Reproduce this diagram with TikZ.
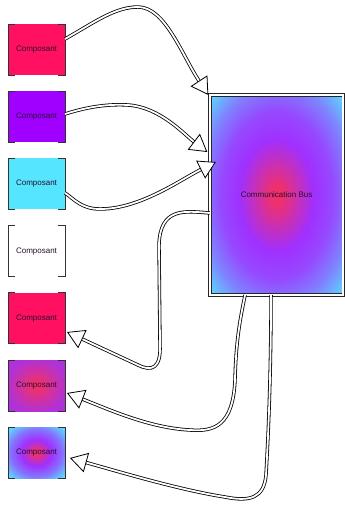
\documentclass[tikz,border=0pt]{standalone}
\usepackage{fontspec}
\setmainfont{Liberation Sans}
\usetikzlibrary{arrows.meta,calc}

\definecolor{crimsonpink}{HTML}{FF1060}
\definecolor{violetfill}{HTML}{A000FF}
\definecolor{cyanfill}{HTML}{55E5FF}
\definecolor{glowred}{HTML}{F0306A}
\definecolor{glowpurple}{HTML}{A030FF}
\definecolor{glowblue}{HTML}{5CD8FF}
\definecolor{magentaedge}{HTML}{B032D6}
\definecolor{inktext}{HTML}{2A1030}

% radial glows used by the bus and the last two components
\pgfdeclareradialshading{busglow}{\pgfpoint{0bp}{0bp}}{%
  color(0bp)=(glowred); color(2bp)=(glowred);
  color(8bp)=(glowred!50!glowpurple); color(14bp)=(glowpurple);
  color(21bp)=(glowpurple!85!glowblue); color(28bp)=(glowpurple!50!glowblue);
  color(35bp)=(glowblue); color(50bp)=(glowblue)}
\pgfdeclareradialshading{warmglow}{\pgfpoint{0bp}{0bp}}{%
  color(0bp)=(glowred); color(3bp)=(glowred);
  color(26bp)=(magentaedge); color(42bp)=(magentaedge!80!glowpurple);
  color(50bp)=(magentaedge!80!glowpurple)}
\pgfdeclareradialshading{coolglow}{\pgfpoint{0bp}{0bp}}{%
  color(0bp)=(glowred); color(2bp)=(glowred);
  color(13bp)=(glowpurple); color(23bp)=(glowpurple!60!glowblue);
  color(33bp)=(glowblue); color(50bp)=(glowblue)}

\tikzset{
  comp/.style={rectangle, minimum width=57pt, minimum height=51pt,
    inner sep=0pt, outer sep=0pt, draw=none,
    font=\fontsize{8}{9}\selectfont, text=inktext},
  bracket/.style={draw=black!80, line width=0.8pt},
  busbox/.style={rectangle, minimum width=133.5pt, minimum height=200pt,
    inner sep=0pt, outer sep=0pt, shading=busglow,
    draw=black!85, line width=0.7pt, double=white, double distance=2pt,
    font=\fontsize{8}{9}\selectfont, text=inktext},
  wire/.style={draw=black, line width=0.8pt, double=white,
    double distance=1.8pt, line join=round,
    -{Triangle[length=17pt, width=20pt, fill=white, line width=0.8pt]}},
}

\begin{document}
\begin{tikzpicture}[x=1pt, y=-1pt]
  \useasboundingbox (0,0) rectangle (345,507);

  % components
  \node[comp, fill=crimsonpink] (c1) at (36.5,49.5)  {Composant};
  \node[comp, fill=violetfill]  (c2) at (36.5,116.7) {Composant};
  \node[comp, fill=cyanfill]    (c3) at (36.5,183.9) {Composant};
  \node[comp, fill=white]       (c4) at (36.5,251.1) {Composant};
  \node[comp, fill=crimsonpink] (c5) at (36.5,318.3) {Composant};
  \node[comp, shading=warmglow] (c6) at (36.5,385.5) {Composant};
  \node[comp, shading=coolglow] (c7) at (36.5,452.7) {Composant};

  % bracket outlines of the components
  \foreach \n in {c1,c2,c3,c4,c5,c6,c7} {
    \draw[bracket] ([xshift=7pt]\n.north west) -- (\n.north west)
      -- (\n.south west) -- ([xshift=7pt]\n.south west);
    \draw[bracket] ([xshift=-7pt]\n.north east) -- (\n.north east)
      -- (\n.south east) -- ([xshift=-7pt]\n.south east);
  }

  % bus
  \node[busbox] (bus) at (276.55,195) {Communication Bus};

  % components to bus
  \draw[wire] ([yshift=10.5pt]c1.east)
    .. controls (95,22) and (115,7) .. (138,7)
    .. controls (165,7) and (182,55) .. ([xshift=-1.5pt]bus.north west);
  \draw[wire] ([yshift=2.7pt]c2.east)
    .. controls (90,106) and (110,104) .. (128,105)
    .. controls (160,107) and (185,135) .. ([shift={(-2.5pt,43pt)}]bus.west);
  \draw[wire] ([yshift=-9pt]c3.east)
    .. controls (75,200) and (82,209) .. (100,209)
    .. controls (140,209) and (180,180) .. ([shift={(6pt,33pt)}]bus.west);

  % bus to components
  \draw[wire] ([yshift=-18pt]bus.west)
    .. controls (185,211) and (160,207) .. (159,245)
    -- (160,345)
    .. controls (161,368) and (152,372) .. (138,365)
    -- ([shift={(2pt,-13.7pt)}]c5.east);
  \draw[wire] ([xshift=-31.5pt]bus.south)
    .. controls (240,320) and (236,340) .. (235,380)
    .. controls (233,425) and (215,432) .. (190,430)
    .. controls (150,428) and (110,410) .. ([shift={(2pt,-7.5pt)}]c6.east);
  \draw[wire] ([xshift=-5.5pt]bus.south)
    .. controls (271,380) and (268,440) .. (266,475)
    .. controls (264,498) and (250,502) .. (225,497)
    .. controls (180,490) and (120,472) .. ([shift={(5pt,-5.3pt)}]c7.east);
\end{tikzpicture}
\end{document}
